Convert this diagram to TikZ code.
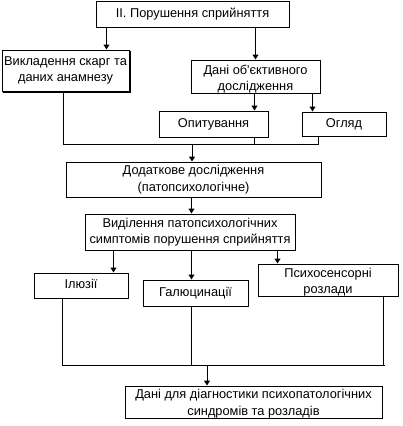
\documentclass[tikz,border=0pt]{standalone}
\usepackage{fontspec}
\setmainfont{Liberation Sans}
\usetikzlibrary{arrows.meta,calc}
\begin{document}
\begin{tikzpicture}[x=1pt,y=-1pt,
  box/.style={draw,line width=1pt,inner sep=0pt,align=center,font=\fontsize{12.8}{16.5}\selectfont},
  txt/.style={inner sep=0pt,align=center,font=\fontsize{12.8}{16.5}\selectfont},
  ln/.style={line width=1pt},
  arr/.style={line width=1pt,-{Triangle[width=6pt,length=5pt]}}]
\useasboundingbox (0,0) rectangle (403,426);
% boxes
\node[box,minimum width=193pt,minimum height=26pt] (b1) at (192.5,14) {II. Порушення сприйняття};
\node[box,minimum width=127pt,minimum height=41pt] (b2) at (65.5,70.5) {Викладення скарг та\\даних анамнезу};
\draw[line width=1pt] ([xshift=1pt,yshift=-1pt]b2.south west) -- ([xshift=1pt,yshift=-1pt]b2.south east) -- ([xshift=1pt,yshift=-1pt]b2.north east);
\node[box,minimum width=129pt,minimum height=33pt] (b3) at (255.5,76.5) {};
\node[txt] (t3) at (255.5,79) {Дані об\textquotesingle єктивного\\дослідження};
\node[box,minimum width=109pt,minimum height=26pt] (b4) at (213.5,124) {Опитування};
\node[box,minimum width=84pt,minimum height=24pt] (b5) at (344,124) {Огляд};
\node[box,minimum width=255pt,minimum height=35pt] (b6) at (193.5,179.5) {Додаткове дослідження\\(патопсихологічне)};
\node[box,minimum width=210pt,minimum height=36pt] (b7) at (190,232) {Виділення патопсихологічних\\симптомів порушення сприйняття};
\node[box,minimum width=94pt,minimum height=25pt] (b8) at (81,285.5) {};
\node[txt] (t8) at (81,283.5) {Ілюзії};
\node[box,minimum width=105pt,minimum height=26pt] (b9) at (195.5,293) {Галюцинації};
\node[box,minimum width=140pt,minimum height=32pt] (b10) at (328,280) {};
\node[txt] (t10) at (328,282) {Психосенсорні\\розлади};
\node[box,minimum width=257pt,minimum height=32pt] (b11) at (253.5,402) {};
\node[txt] (t11) at (253.5,403.5) {Дані для діагностики психопатологічних\\синдромів та розладів};
% connectors top
\coordinate (c1) at ($(b1.south west)+(11,0)$);
\draw[arr] (c1) -- (c1 |- b2.north);
\coordinate (c2) at ($(b1.south west)+(160,0)$);
\draw[arr] (c2) -- (c2 |- b3.north);
\coordinate (c3) at ($(b3.south west)+(64,0)$);
\draw[arr] (c3) -- (c3 |- b4.north);
\coordinate (c4) at ($(b3.south west)+(122,0)$);
\draw[arr] (c4) -- (c4 |- b5.north);
% join 1
\coordinate (j1) at (192,144);
\coordinate (l1) at ($(b2.south west)+(62,0)$);
\coordinate (l2) at ($(b4.south west)+(96,0)$);
\coordinate (l3) at ($(b5.south west)+(17,0)$);
\draw[ln] (l1) -- (l1 |- j1) -- (l3 |- j1) -- (l3);
\draw[ln] (l2) -- (l2 |- j1);
\draw[arr] (j1) -- (j1 |- b6.north);
\coordinate (c5) at ($(b6.south west)+(126,0)$);
\draw[arr] (c5) -- (c5 |- b7.north);
\coordinate (c6) at ($(b7.south west)+(29,0)$);
\draw[arr] (c6) -- (c6 |- b8.north);
\coordinate (c7) at ($(b7.south west)+(107,0)$);
\draw[arr] (c7) -- (c7 |- b9.north);
\coordinate (c8) at ($(b7.south west)+(193,0)$);
\draw[arr] (c8) -- (c8 |- b10.north);
% join 2
\coordinate (j2) at (207,365);
\coordinate (m1) at ($(b8.south west)+(29,0)$);
\coordinate (m2) at ($(b9.south west)+(49,0)$);
\coordinate (m3) at ($(b10.south west)+(126,0)$);
\draw[ln] (m1) -- (m1 |- j2) -- ($(m3 |- j2)+(1,0)$);
\draw[ln] (m2) -- (m2 |- j2);
\draw[ln] (m3) -- (m3 |- j2);
\draw[arr] (j2) -- (j2 |- b11.north);
\end{tikzpicture}
\end{document}
